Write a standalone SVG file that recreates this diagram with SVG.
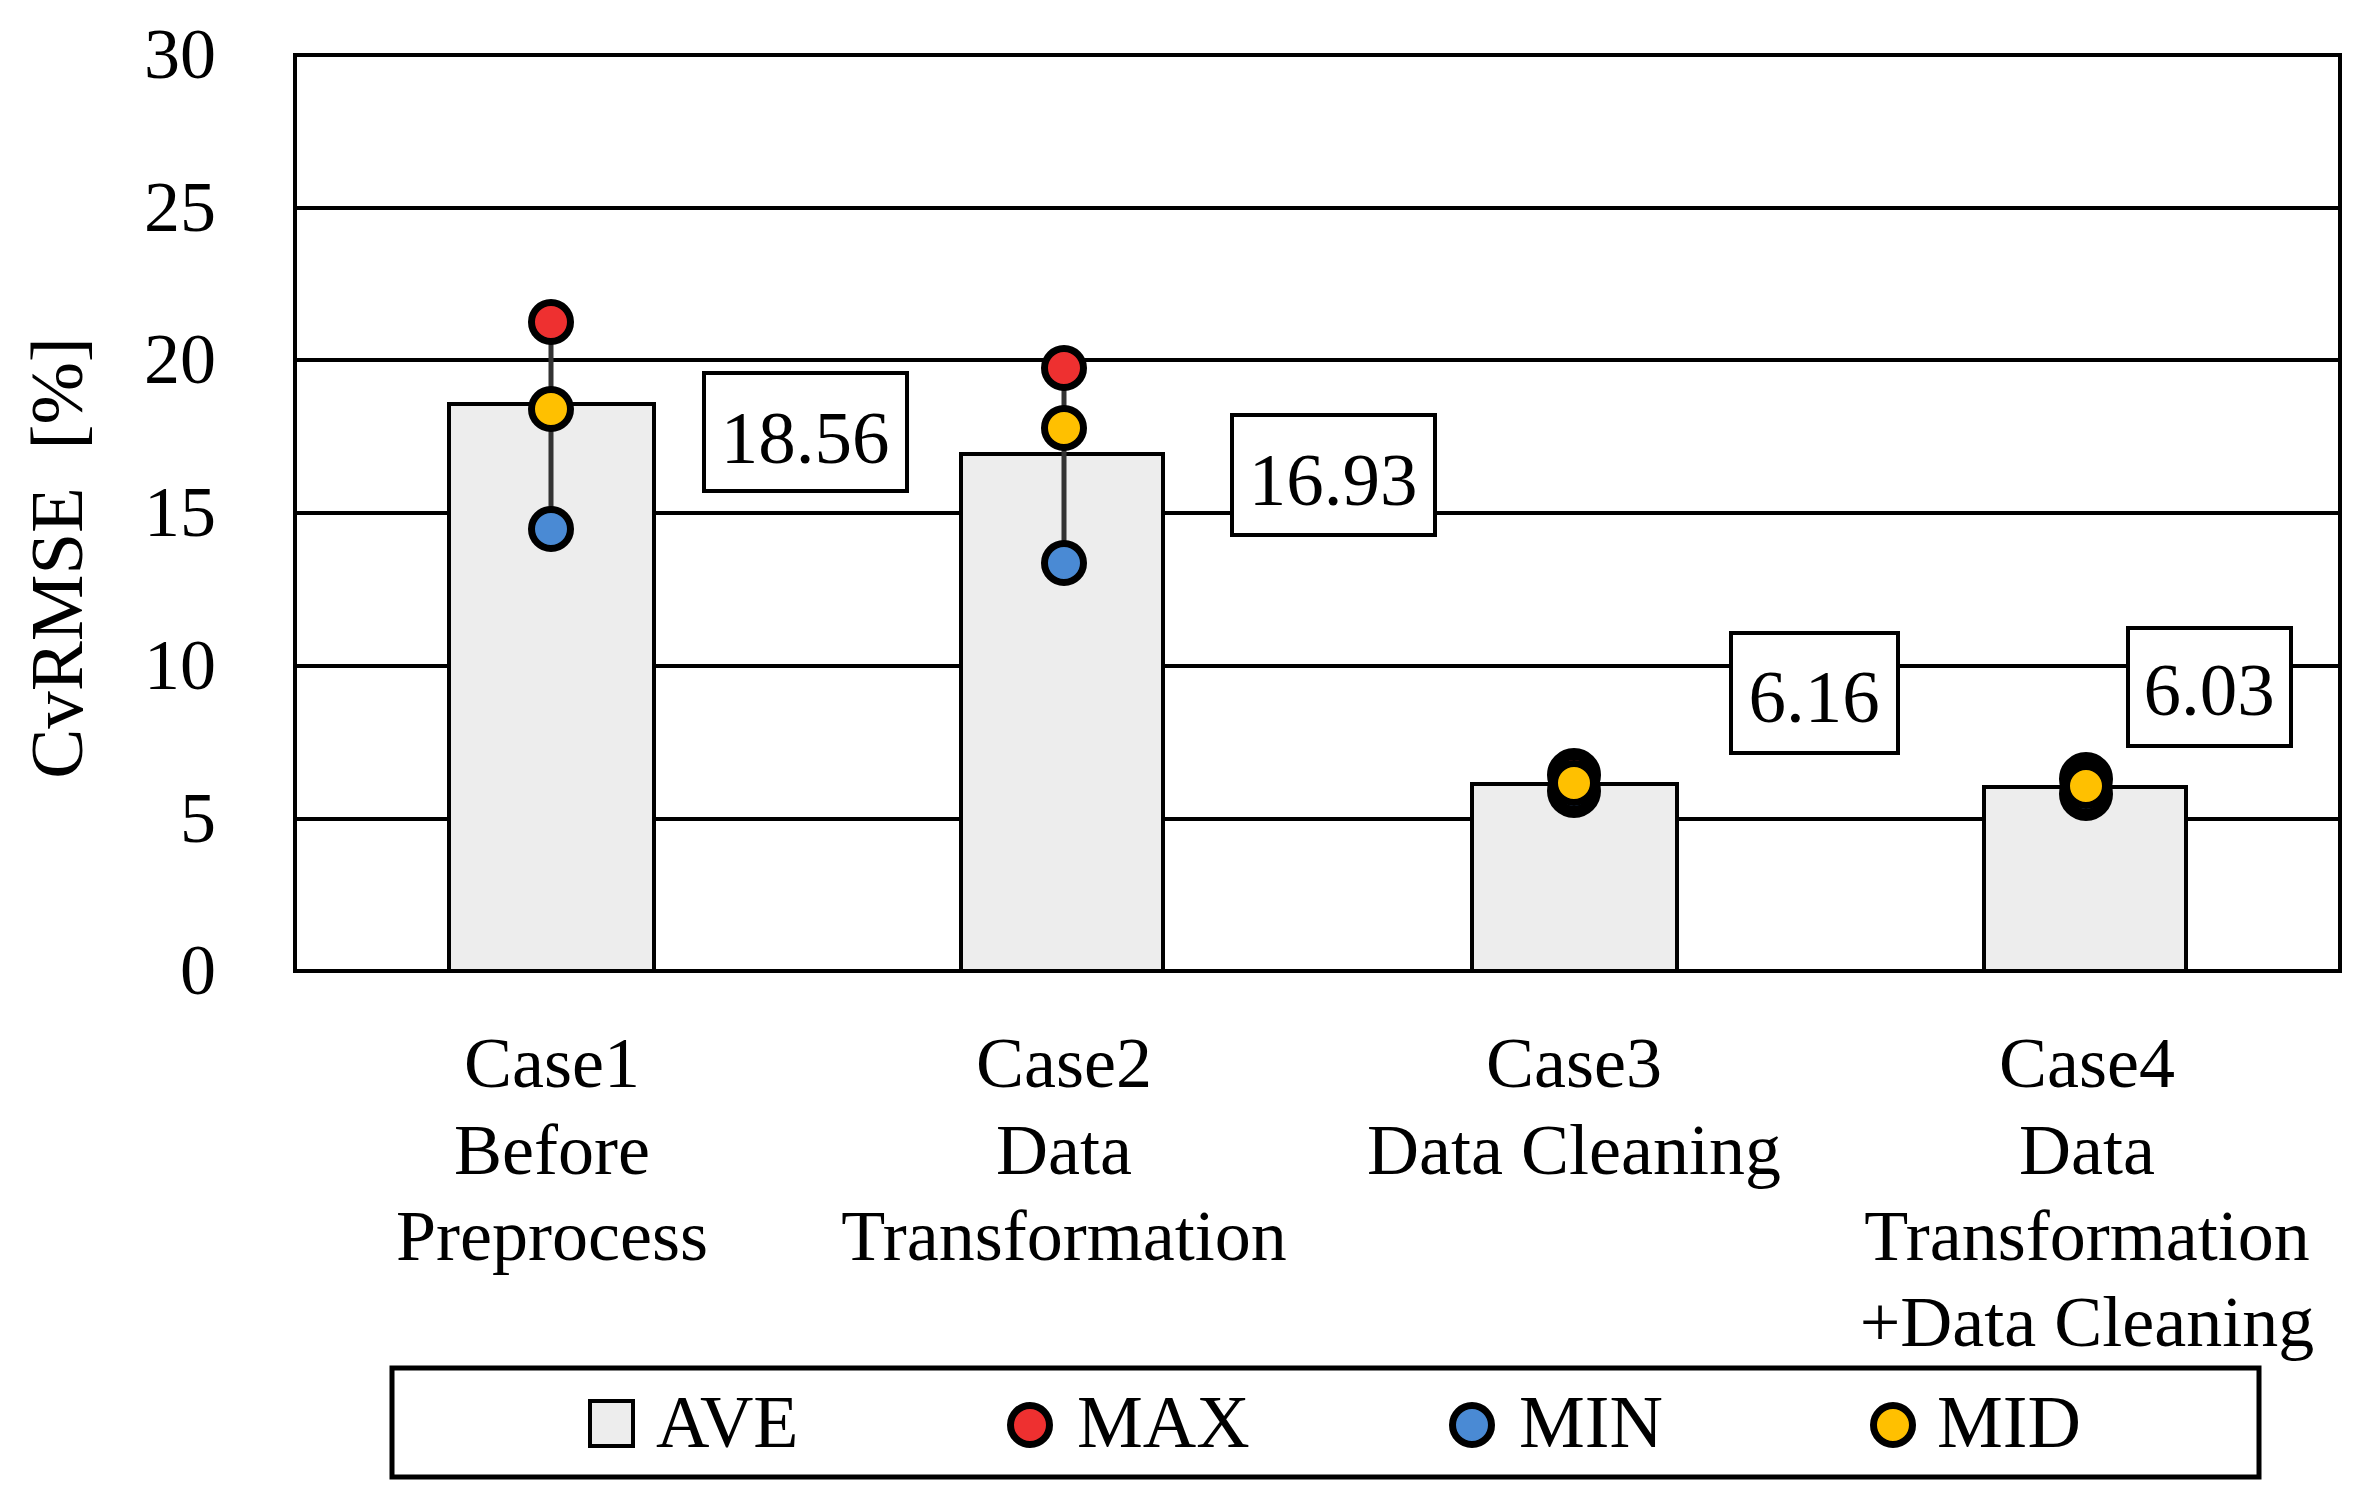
<svg xmlns="http://www.w3.org/2000/svg" width="2361" height="1500" viewBox="0 0 2361 1500">
<style>
  text { font-family: "Liberation Serif", "DejaVu Serif", serif; fill: #000; }
  .tick { font-size: 72px; text-anchor: end; }
  .cat { font-size: 72px; text-anchor: middle; }
  .val { font-size: 75px; text-anchor: middle; }
  .leg { font-size: 74px; }
  .grid { stroke: #000; stroke-width: 4; fill: none; }
  .bar { fill: #EDEDED; stroke: #000; stroke-width: 4; }
  .box { fill: #fff; stroke: #000; stroke-width: 4; }
  .stem { stroke: #333; stroke-width: 5; }
  .dot { stroke: #000; stroke-width: 7; }
  .hid { stroke-width: 12; }
  .max { fill: #EE3030; }
  .min { fill: #4A8AD4; }
  .mid { fill: #FFC000; }
</style>
<rect x="0" y="0" width="2361" height="1500" fill="#fff"/>

<g id="grid">
  <line class="grid" x1="295" y1="208" x2="2340" y2="208"/>
  <line class="grid" x1="295" y1="360" x2="2340" y2="360"/>
  <line class="grid" x1="295" y1="513" x2="2340" y2="513"/>
  <line class="grid" x1="295" y1="666" x2="2340" y2="666"/>
  <line class="grid" x1="295" y1="819" x2="2340" y2="819"/>
  <rect class="grid" x="295" y="55" width="2045" height="916"/>
</g>

<g id="yaxis">
  <text class="tick" x="216" y="78">30</text>
  <text class="tick" x="216" y="231">25</text>
  <text class="tick" x="216" y="383">20</text>
  <text class="tick" x="216" y="536">15</text>
  <text class="tick" x="216" y="689">10</text>
  <text class="tick" x="216" y="842">5</text>
  <text class="tick" x="216" y="994">0</text>
  <text transform="translate(82,558) rotate(-90)" font-size="75" text-anchor="middle" xml:space="preserve">CvRMSE  [%]</text>
</g>

<g id="case1">
  <rect class="bar" x="449" y="404" width="205" height="567"/>
  <rect class="box" x="704" y="373" width="203" height="118"/>
  <text class="val" x="805" y="463">18.56</text>
</g>
<g id="case2">
  <rect class="bar" x="961" y="454" width="202" height="517"/>
  <rect class="box" x="1232" y="415" width="203" height="120"/>
  <text class="val" x="1333" y="505">16.93</text>
</g>
<g id="case3">
  <rect class="bar" x="1472" y="784" width="205" height="187"/>
  <rect class="box" x="1731" y="633" width="167" height="120"/>
  <text class="val" x="1814" y="722">6.16</text>
</g>
<g id="case4">
  <rect class="bar" x="1984" y="787" width="202" height="184"/>
  <rect class="box" x="2128" y="628" width="163" height="118"/>
  <text class="val" x="2209" y="715">6.03</text>
</g>

<g id="connectors">
  <line class="stem" x1="551" y1="322" x2="551" y2="529"/>
  <line class="stem" x1="1064" y1="368" x2="1064" y2="563"/>
</g>

<g id="markers">
  <circle class="dot max" cx="551" cy="322" r="19.5"/>
  <circle class="dot min" cx="551" cy="529" r="19.5"/>
  <circle class="dot mid" cx="551" cy="409" r="19.5"/>
  <circle class="dot max" cx="1064" cy="368" r="19.5"/>
  <circle class="dot min" cx="1064" cy="563" r="19.5"/>
  <circle class="dot mid" cx="1064" cy="428" r="19.5"/>
  <circle class="dot hid max" cx="1574" cy="775" r="21"/>
  <circle class="dot hid min" cx="1574" cy="791" r="21"/>
  <circle class="dot mid" cx="1574" cy="783" r="19.5"/>
  <circle class="dot hid max" cx="2086" cy="779" r="21"/>
  <circle class="dot hid min" cx="2086" cy="794" r="21"/>
  <circle class="dot mid" cx="2086" cy="786" r="19.5"/>
</g>

<g id="xlabels">
  <text class="cat" x="552" y="1087">Case1</text>
  <text class="cat" x="552" y="1174">Before</text>
  <text class="cat" x="552" y="1260">Preprocess</text>
  <text class="cat" x="1064" y="1087">Case2</text>
  <text class="cat" x="1064" y="1174">Data</text>
  <text class="cat" x="1064" y="1260">Transformation</text>
  <text class="cat" x="1574" y="1087">Case3</text>
  <text class="cat" x="1574" y="1174">Data Cleaning</text>
  <text class="cat" x="2087" y="1087">Case4</text>
  <text class="cat" x="2087" y="1174">Data</text>
  <text class="cat" x="2087" y="1260">Transformation</text>
  <text class="cat" x="2087" y="1346">+Data Cleaning</text>
</g>

<g id="legend">
  <rect x="392" y="1368" width="1867" height="109" fill="#fff" stroke="#000" stroke-width="5"/>
  <rect class="bar" x="590" y="1401" width="43" height="45"/>
  <text class="leg" x="656" y="1447">AVE</text>
  <circle class="dot max" cx="1030" cy="1425" r="19.5"/>
  <text class="leg" x="1077" y="1447">MAX</text>
  <circle class="dot min" cx="1472" cy="1425" r="19.5"/>
  <text class="leg" x="1519" y="1447">MIN</text>
  <circle class="dot mid" cx="1893" cy="1425" r="19.5"/>
  <text class="leg" x="1937" y="1447">MID</text>
</g>
</svg>
